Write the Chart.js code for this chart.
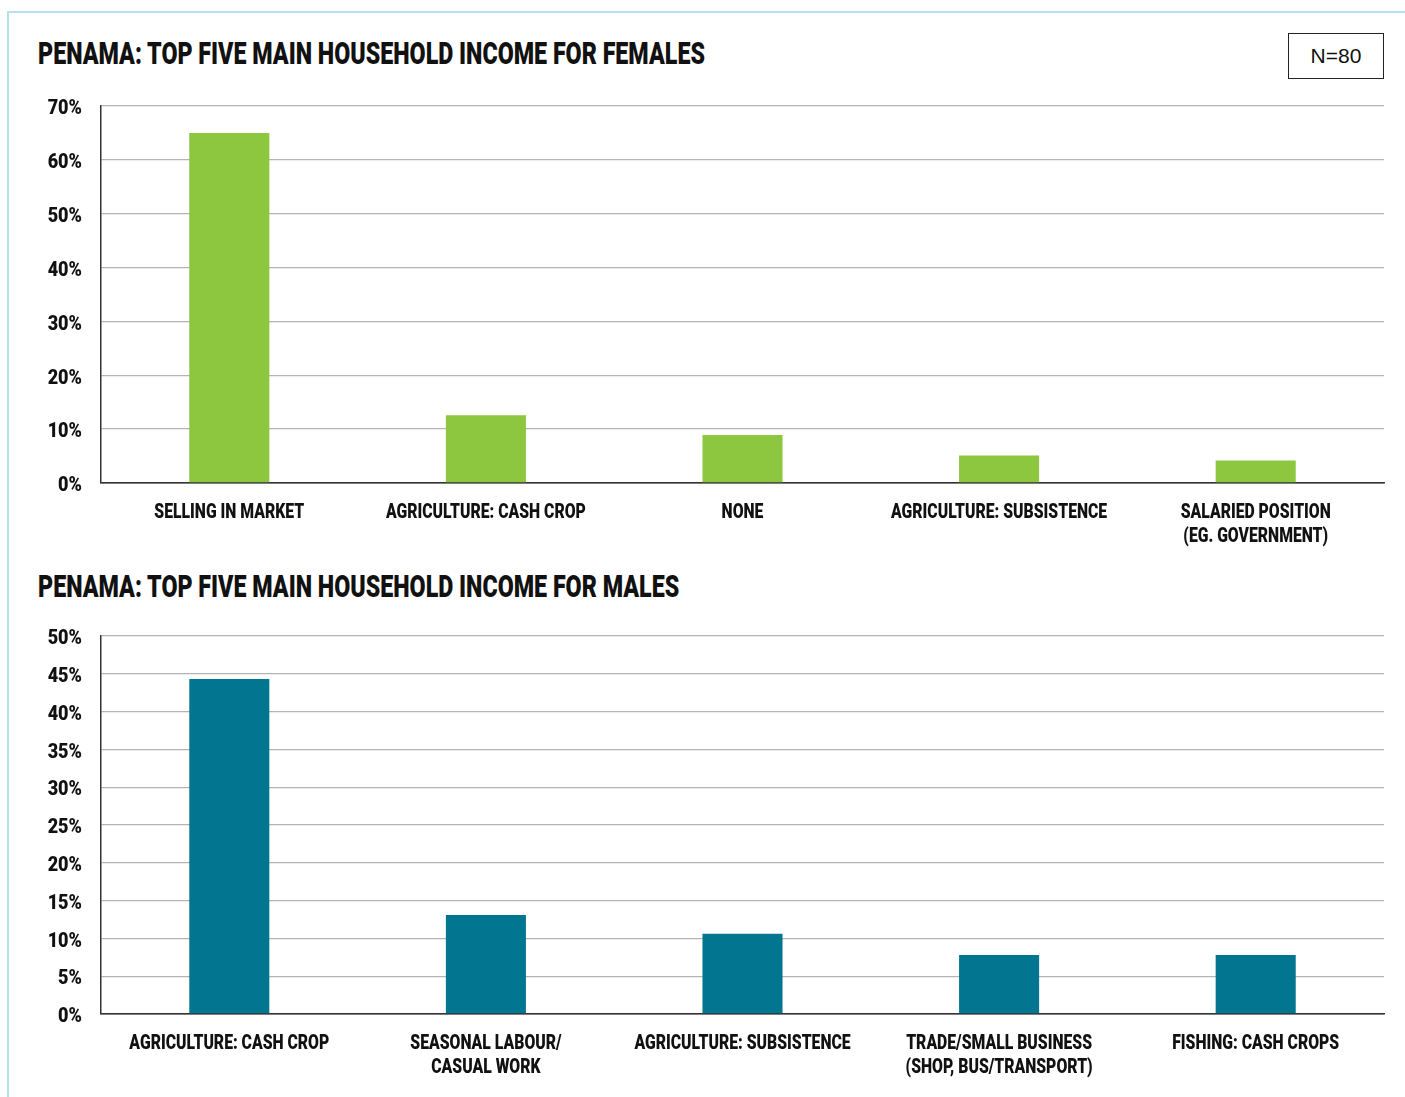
<!DOCTYPE html>
<html>
<head>
<meta charset="utf-8">
<script src="https://cdn.jsdelivr.net/npm/chart.js@4.4.1/dist/chart.umd.min.js"></script>
<style>
  body { margin: 0; background: #fff; width: 1405px; height: 1097px; position: relative; overflow: hidden; font-family: Roboto, sans-serif; }
  .moldura { position: absolute; left: 7px; top: 11px; right: 0; bottom: 0; border-top: 2px solid #b3e1ec; border-left: 2px solid #b3e1ec; }
  .titulo { position: absolute; left: 38px; font: 900 31px Roboto, sans-serif; line-height: 31px; color: #111; white-space: nowrap; transform: scaleX(0.75); transform-origin: left center; }
  .caixaN { position: absolute; left: 1288px; top: 33px; width: 94px; height: 44px; border: 1px solid #222; font: 21px "Liberation Sans", Arial, sans-serif; line-height: 44px; text-align: center; color: #111; }
  canvas { position: absolute; left: 0; }
</style>
</head>
<body>
<div class="moldura"></div>
<div class="titulo" style="top:38px">PENAMA: TOP FIVE MAIN HOUSEHOLD INCOME FOR FEMALES</div>
<div class="caixaN">N=80</div>
<canvas id="graficoMulheres" width="1405" height="470" style="top:90px"></canvas>
<div class="titulo" style="top:571px">PENAMA: TOP FIVE MAIN HOUSEHOLD INCOME FOR MALES</div>
<canvas id="graficoHomens" width="1405" height="477" style="top:620px"></canvas>
<script>
// Dados
const categoriasMulheres = ['SELLING IN MARKET', 'AGRICULTURE: CASH CROP', 'NONE', 'AGRICULTURE: SUBSISTENCE', ['SALARIED POSITION', '(EG. GOVERNMENT)']];
const valoresMulheres = [65, 12.6, 8.9, 5.1, 4.2];
const ticksMulheres = [0, 10, 20, 30, 40, 50, 60, 70];
const rotulosTicksMulheres = ['0%', '10%', '20%', '30%', '40%', '50%', '60%', '70%'];

const categoriasHomens = ['AGRICULTURE: CASH CROP', ['SEASONAL LABOUR/', 'CASUAL WORK'], 'AGRICULTURE: SUBSISTENCE', ['TRADE/SMALL BUSINESS', '(SHOP, BUS/TRANSPORT)'], 'FISHING: CASH CROPS'];
const valoresHomens = [44.3, 13.1, 10.6, 7.8, 7.8];
const ticksHomens = [0, 5, 10, 15, 20, 25, 30, 35, 40, 45, 50];
const rotulosTicksHomens = ['0%', '5%', '10%', '15%', '20%', '25%', '30%', '35%', '40%', '45%', '50%'];

// Texto "condensado" (a fonte original é estreita)
function textoEstreito(ctx, texto, x, y, alinhamento, escala) {
    ctx.save();
    ctx.translate(x, y);
    ctx.scale(escala, 1);
    ctx.textAlign = alinhamento;
    ctx.fillText(texto, 0, 0);
    ctx.restore();
}

const pluginRotulos = {
    id: 'rotulos',
    afterDraw(chart, args, opts) {
        const { ctx, chartArea } = chart;
        const escalaX = chart.scales.x;
        const escalaY = chart.scales.y;
        ctx.save();
        ctx.font = '900 21px Roboto';
        ctx.fillStyle = '#111';
        ctx.textBaseline = 'middle';
        chart.data.labels.forEach((rotulo, i) => {
            const linhas = Array.isArray(rotulo) ? rotulo : [rotulo];
            const x = escalaX.getPixelForValue(i);
            linhas.forEach((linha, j) => {
                textoEstreito(ctx, linha, x, chartArea.bottom + 30 + j * 24, 'center', 0.75);
            });
        });
        opts.valores.forEach((v, i) => {
            textoEstreito(ctx, opts.textos[i], chartArea.left - 19, escalaY.getPixelForValue(v) + 3, 'right', 0.86);
        });
        ctx.restore();
    }
};

const criarGraficoBarras = (elementoId, labels, data, cor, maximo, passo, ticks, textos, paddingBaixo) => {
    const contexto = document.getElementById(elementoId).getContext('2d');
    new Chart(contexto, {
        type: 'bar',
        data: {
            labels: labels,
            datasets: [{
                data: data,
                backgroundColor: cor,
                barPercentage: 0.312,
                categoryPercentage: 1
            }]
        },
        options: {
            responsive: false,
            animation: false,
            events: [],
            layout: { padding: { left: 101, right: 21, top: 16, bottom: paddingBaixo } },
            plugins: {
                legend: { display: false },
                tooltip: { enabled: false },
                rotulos: { valores: ticks, textos: textos }
            },
            scales: {
                x: {
                    grid: { display: false },
                    border: { display: true, color: '#333', width: 1.5 },
                    ticks: { display: false }
                },
                y: {
                    min: 0,
                    max: maximo,
                    ticks: { display: false, stepSize: passo },
                    grid: {
                        drawTicks: false,
                        color: (c) => c.tick && c.tick.value === 0 ? '#333' : '#b4b4b4',
                        lineWidth: 1.3
                    },
                    border: { display: true, color: '#333', width: 1.5 }
                }
            }
        },
        plugins: [pluginRotulos]
    });
};

criarGraficoBarras('graficoMulheres', categoriasMulheres, valoresMulheres, '#8dc63f', 70, 10, ticksMulheres, rotulosTicksMulheres, 69);
criarGraficoBarras('graficoHomens', categoriasHomens, valoresHomens, '#027590', 50, 5, ticksHomens, rotulosTicksHomens, 75);
</script>
</body>
</html>
